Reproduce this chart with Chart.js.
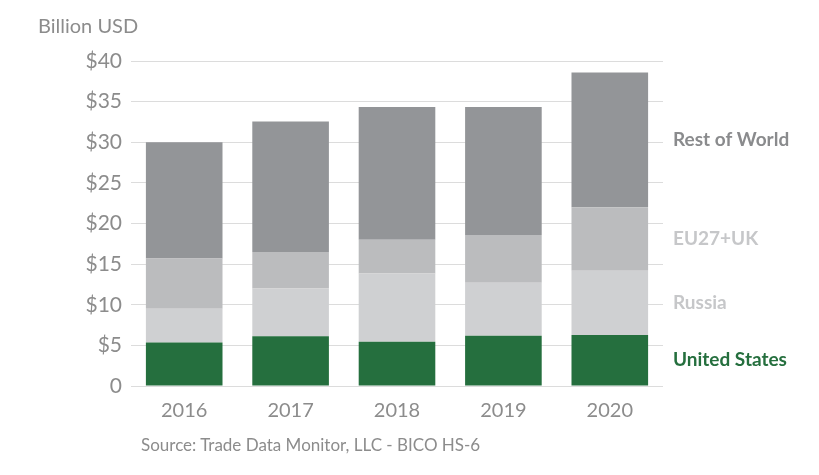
<!DOCTYPE html>
<html>
<head>
<meta charset="utf-8">
<script src="https://cdn.jsdelivr.net/npm/chart.js@4.4.0/dist/chart.umd.min.js"></script>
<style>
  html, body { margin: 0; padding: 0; background: #fff; }
  #wrap { position: relative; width: 819px; height: 475px; font-family: Lato, sans-serif; }
  #unit { position: absolute; left: 38px; top: 13px; font-size: 20px; color: #8c8c8c; }
  #source { position: absolute; left: 141px; top: 434px; font-size: 17px; color: #8c8c8c; }
</style>
</head>
<body>
<div id="wrap">
  <canvas id="grafico"></canvas>
  <div id="unit">Billion USD</div>
  <div id="source">Source: Trade Data Monitor, LLC - BICO HS-6</div>
</div>
<script>
const anos = ["2016", "2017", "2018", "2019", "2020"];

const estadosUnidos = [5.34, 6.13, 5.46, 6.2, 6.28];
const russia = [4.16, 5.87, 8.39, 6.5, 7.92];
const ue = [6.2, 4.5, 4.15, 5.9, 7.8];
const restoMundo = [14.3, 16.05, 16.35, 15.75, 16.6];

const rotulos = ["United States", "Russia", "EU27+UK", "Rest of World"];
const yTicks = [0, 5, 10, 15, 20, 25, 30, 35, 40];

const cinza = "#8c8c8c";

// rotulos a direita, alinhados com o meio de cada segmento da ultima barra
const rotulosDireita = {
  id: "rotulosDireita",
  afterDatasetsDraw(chart) {
    const ctx = chart.ctx;
    const cores = ["#256f3e", "#c6c7c9", "#c6c7c9", "#8a8b8d"];
    ctx.save();
    ctx.font = "bold 19px Lato, sans-serif";
    ctx.textBaseline = "middle";
    ctx.textAlign = "left";
    chart.data.datasets.forEach((ds, i) => {
      const meta = chart.getDatasetMeta(i);
      const bar = meta.data[meta.data.length - 1];
      const meio = (bar.y + bar.base) / 2;
      ctx.fillStyle = cores[i];
      ctx.fillText(rotulos[i], 673, meio);
    });
    ctx.restore();
  }
};

new Chart(document.getElementById("grafico"), {
  type: "bar",
  data: {
    labels: anos,
    datasets: [
      { label: rotulos[0], data: estadosUnidos, backgroundColor: "#256f3e" },
      { label: rotulos[1], data: russia, backgroundColor: "#cfd0d2" },
      { label: rotulos[2], data: ue, backgroundColor: "#bbbcbe" },
      { label: rotulos[3], data: restoMundo, backgroundColor: "#939598" }
    ]
  },
  options: {
    responsive: true,
    maintainAspectRatio: false,
    animation: false,
    layout: { padding: { top: 61, right: 156, bottom: 47, left: 0 } },
    datasets: { bar: { categoryPercentage: 1, barPercentage: 0.72 } },
    plugins: {
      legend: { display: false },
      tooltip: { enabled: false }
    },
    scales: {
      x: {
        stacked: true,
        grid: { display: false },
        border: { display: false },
        ticks: { color: cinza, font: { family: "Lato", size: 20 }, padding: 5 }
      },
      y: {
        stacked: true,
        min: 0,
        max: 40,
        afterFit(scale) { scale.width = 131; },
        afterBuildTicks(scale) { scale.ticks = yTicks.map(v => ({ value: v })); },
        grid: { color: "#dcdcdc", lineWidth: 1, drawTicks: false },
        border: { display: false },
        ticks: {
          color: cinza,
          font: { family: "Lato", size: 21 },
          padding: 9,
          callback: v => v === 0 ? "0" : "$" + v
        }
      }
    }
  },
  plugins: [rotulosDireita]
});
</script>
</body>
</html>
